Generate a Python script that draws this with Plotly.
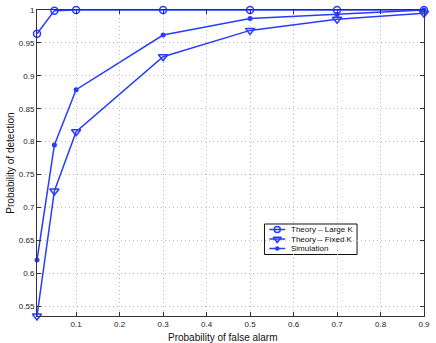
import plotly.graph_objects as go

pfa = [0.01, 0.05, 0.1, 0.3, 0.5, 0.7, 0.9]
pd_large_k = [0.964, 0.999, 1.0, 1.0, 1.0, 1.0, 1.0]
pd_fixed_k = [0.535, 0.725, 0.815, 0.929, 0.969, 0.986, 0.995]
pd_sim = [0.620, 0.795, 0.879, 0.962, 0.987, 0.993, 1.0]

names = ["Theory \u2013 Large K", "Theory \u2013 Fixed K", "Simulation"]
x_ticks = [0.1, 0.2, 0.3, 0.4, 0.5, 0.6, 0.7, 0.8, 0.9]
y_ticks = [0.55, 0.6, 0.65, 0.7, 0.75, 0.8, 0.85, 0.9, 0.95, 1.0]
y_ticktext = ["0.55", "0.6", "0.65", "0.7", "0.75", "0.8", "0.85", "0.9", "0.95", "1"]

blue = "rgb(40,60,255)"
markers = [dict(symbol="circle-open", size=7, color=blue, line=dict(width=1.5, color=blue)),
           dict(symbol="triangle-down-open", size=8, color=blue, line=dict(width=1.5, color=blue)),
           dict(symbol="circle", size=5, color=blue)]
leg_markers = [dict(symbol="circle-open", size=6, color=blue, line=dict(width=1.5, color=blue)),
               dict(symbol="triangle-down-open", size=7, color=blue, line=dict(width=1.5, color=blue)),
               dict(symbol="circle", size=4.5, color=blue)]

fig = go.Figure()
for ys, nm, mk in zip([pd_large_k, pd_fixed_k, pd_sim], names, markers):
    fig.add_trace(go.Scatter(x=pfa, y=ys, name=nm, mode="lines+markers", cliponaxis=False,
                             line=dict(color=blue, width=1.5), marker=mk, showlegend=False))

# matlab-style compact legend, drawn on an overlay axis measured in pixels
L, R, T, B = 37, 430, 10, 316
leg_rows = [229.5, 239, 248.5]
for yr, nm, mk in zip(leg_rows, names, leg_markers):
    fig.add_trace(go.Scatter(x=[273, 281, 289], y=[yr, yr, yr], mode="lines",
                             line=dict(color=blue, width=1.5), xaxis="x2", yaxis="y2",
                             showlegend=False, hoverinfo="skip"))
    fig.add_trace(go.Scatter(x=[281], y=[yr], mode="markers", marker=mk, xaxis="x2", yaxis="y2",
                             showlegend=False, hoverinfo="skip"))
    fig.add_annotation(x=293, y=yr, xref="x2", yref="y2", text=nm, showarrow=False,
                       xanchor="left", yanchor="middle", font=dict(size=8, color="#111"))
fig.add_shape(type="rect", x0=268, x1=362, y0=224, y1=254.5, xref="x2", yref="y2",
              line=dict(color="#111", width=1), fillcolor="rgba(255,255,255,0)", layer="below")

axis_common = dict(showline=True, mirror="ticks", linecolor="#333", linewidth=1,
                   ticks="inside", ticklen=4, tickcolor="#333", ticklabeloverflow="allow",
                   showgrid=True, gridcolor="#bdbdbd", griddash="1px,3px", gridwidth=1,
                   zeroline=False, tickfont=dict(size=8, color="#222"))

fig.update_layout(
    width=436, height=343,
    margin=dict(l=L, r=436 - R, t=T, b=343 - B),
    plot_bgcolor="white", paper_bgcolor="white",
    font=dict(family="Liberation Sans, Arial, sans-serif", color="#111"),
    showlegend=False,
    xaxis=dict(range=[0.01, 0.9], tickvals=x_ticks, ticktext=[str(v) for v in x_ticks], **axis_common),
    yaxis=dict(range=[0.535, 1.0], tickvals=y_ticks, ticktext=y_ticktext, **axis_common),
    xaxis2=dict(overlaying="x", range=[L, R], visible=False, fixedrange=True),
    yaxis2=dict(overlaying="y", range=[B, T], visible=False, fixedrange=True),
)

fig.add_annotation(x=(226 - L) / (R - L), y=-0.045, xref="paper", yref="paper", yanchor="top",
                   text="Probability of false alarm", showarrow=False, font=dict(size=10, color="#111"))
fig.add_annotation(x=-0.09, y=0.5, xref="paper", yref="paper", textangle=-90,
                   text="Probability of detection", showarrow=False, font=dict(size=10, color="#111"))

# the page's default body margin shifts the figure, drop it
fig.write_html("out.html", config={"displayModeBar": False},
               post_script="document.body.style.margin='0';")
